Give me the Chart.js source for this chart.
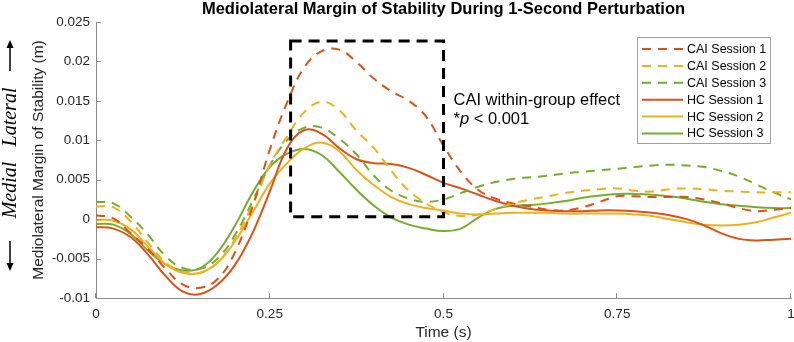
<!DOCTYPE html>
<html>
<head>
<meta charset="utf-8">
<script src="https://cdn.jsdelivr.net/npm/chart.js@4"></script>
<style>
  html, body { margin: 0; padding: 0; background: #fff; }
  canvas { display: block; }
</style>
</head>
<body>
<canvas id="grafico" width="794" height="342"></canvas>
<script>
// dados (tempo em s, margem em m)
const tempo = [0, 0.025, 0.05, 0.075, 0.1, 0.125, 0.15, 0.175, 0.2, 0.225, 0.25, 0.275, 0.3, 0.325, 0.35, 0.375, 0.4, 0.425, 0.45, 0.475, 0.5,
  0.525, 0.55, 0.575, 0.6, 0.625, 0.65, 0.675, 0.7, 0.725, 0.75, 0.775, 0.8, 0.825, 0.85, 0.875, 0.9, 0.925, 0.95, 0.975, 1]

const caiSessao1 = [0.0005, 0.0001, -0.0018, -0.0038, -0.0063, -0.0083, -0.0087, -0.0076, -0.0042, 0.0015, 0.0088, 0.0148, 0.0193, 0.0213, 0.0215, 0.0199, 0.0178, 0.0162, 0.0150, 0.0130, 0.0093,
  0.0060, 0.0037, 0.0026, 0.0020, 0.0016, 0.0012, 0.0011, 0.0015, 0.0022, 0.0029, 0.0029, 0.0028, 0.0028, 0.0028, 0.0025, 0.0020, 0.0014, 0.0010, 0.0012, 0.0014]
const caiSessao2 = [0.0016, 0.0015, -0.0003, -0.0030, -0.0055, -0.0067, -0.0068, -0.0055, -0.0025, 0.0018, 0.0068, 0.0105, 0.0136, 0.0149, 0.0138, 0.0112, 0.0090, 0.0061, 0.0036, 0.0020, 0.0009,
  0.0004, 0.0006, 0.0013, 0.0020, 0.0025, 0.0029, 0.0033, 0.0036, 0.0038, 0.0039, 0.0036, 0.0035, 0.0038, 0.0039, 0.0038, 0.0036, 0.0035, 0.0034, 0.0034, 0.0034]
const caiSessao3 = [0.0022, 0.0020, 0.0003, -0.0020, -0.0047, -0.0062, -0.0063, -0.0050, -0.0020, 0.0022, 0.0068, 0.0100, 0.0116, 0.0116, 0.0102, 0.0082, 0.0055, 0.0036, 0.0026, 0.0022, 0.0025,
  0.0033, 0.0041, 0.0047, 0.0051, 0.0053, 0.0055, 0.0058, 0.0060, 0.0062, 0.0064, 0.0066, 0.0068, 0.0069, 0.0068, 0.0066, 0.0061, 0.0054, 0.0044, 0.0034, 0.0025]
const hcSessao1 = [-0.0010, -0.0012, -0.0023, -0.0045, -0.0072, -0.0092, -0.0095, -0.0083, -0.0058, -0.0018, 0.0035, 0.0090, 0.0113, 0.0108, 0.0090, 0.0076, 0.0071, 0.0070, 0.0065, 0.0056, 0.0046,
  0.0039, 0.0031, 0.0023, 0.0017, 0.0013, 0.0011, 0.0010, 0.0010, 0.0011, 0.0011, 0.0010, 0.0008, 0.0005, 0.0000, -0.0008, -0.0018, -0.0025, -0.0027, -0.0026, -0.0025]
const hcSessao2 = [-0.0001, -0.0002, -0.0013, -0.0035, -0.0057, -0.0068, -0.0068, -0.0055, -0.0028, 0.0008, 0.0045, 0.0071, 0.0090, 0.0097, 0.0086, 0.0062, 0.0043, 0.0028, 0.0019, 0.0014, 0.0011,
  0.0007, 0.0006, 0.0007, 0.0008, 0.0008, 0.0008, 0.0007, 0.0007, 0.0007, 0.0007, 0.0006, 0.0004, 0.0000, -0.0004, -0.0007, -0.0008, -0.0007, -0.0004, 0.0002, 0.0008]
const hcSessao3 = [-0.0006, -0.0007, -0.0019, -0.0040, -0.0057, -0.0065, -0.0062, -0.0042, -0.0008, 0.0033, 0.0066, 0.0083, 0.0089, 0.0081, 0.0060, 0.0037, 0.0017, 0.0002, -0.0007, -0.0012, -0.0015,
  -0.0012, 0.0002, 0.0013, 0.0017, 0.0018, 0.0020, 0.0023, 0.0027, 0.0030, 0.0032, 0.0032, 0.0031, 0.0029, 0.0026, 0.0022, 0.0019, 0.0017, 0.0015, 0.0014, 0.0014]

const nomesSeries = ['CAI Session 1', 'CAI Session 2', 'CAI Session 3', 'HC Session 1', 'HC Session 2', 'HC Session 3']
const xTicks = [0, 0.25, 0.5, 0.75, 1]
const yTicks = [-0.01, -0.005, 0, 0.005, 0.01, 0.015, 0.02, 0.025]
const xTickLabels = ['0', '0.25', '0.5', '0.75', '1']
const yTickLabels = ['-0.01', '-0.005', '0', '0.005', '0.01', '0.015', '0.02', '0.025']

// caixa do efeito: [t inicio, t fim, y baixo, y alto]
const caixaEfeito = [0.28, 0.5, 0.0003, 0.0226]

const vermelho = '#D95319'
const amarelo = '#EDB120'
const verde = '#77AC30'
const fonte = '"Liberation Sans", Arial, sans-serif'

function serie(valores) {
  return tempo.map((t, i) => ({ x: t, y: valores[i] }))
}

function montarDataset(nome, valores, cor, tracejado) {
  return {
    label: nome,
    data: serie(valores),
    borderColor: cor,
    backgroundColor: cor,
    borderWidth: 2,
    borderDash: tracejado ? [9, 7] : [],
    pointRadius: 0,
    fill: false,
    tension: 0.4
  }
}

const datasets = [
  montarDataset(nomesSeries[0], caiSessao1, vermelho, true),
  montarDataset(nomesSeries[1], caiSessao2, amarelo, true),
  montarDataset(nomesSeries[2], caiSessao3, verde, true),
  montarDataset(nomesSeries[3], hcSessao1, vermelho, false),
  montarDataset(nomesSeries[4], hcSessao2, amarelo, false),
  montarDataset(nomesSeries[5], hcSessao3, verde, false)
]

// textos, caixa, ticks para dentro e legenda (estilo MATLAB)
const extras = {
  id: 'extras',
  afterDatasetsDraw(chart) {
    const { ctx, scales: { x, y } } = chart
    const l = x.getPixelForValue(caixaEfeito[0])
    const r = x.getPixelForValue(caixaEfeito[1])
    const b = y.getPixelForValue(caixaEfeito[2])
    const t = y.getPixelForValue(caixaEfeito[3])
    ctx.save()
    ctx.strokeStyle = '#000'
    ctx.lineWidth = 3
    ctx.setLineDash([11, 7])
    ctx.strokeRect(l, t, r - l, b - t)
    ctx.restore()

    // anotação
    ctx.save()
    ctx.fillStyle = '#000'
    ctx.font = '16.5px ' + fonte
    ctx.textBaseline = 'alphabetic'
    ctx.fillText('CAI within-group effect', r + 10, 105)
    let px = r + 10
    ctx.fillText('*', px, 124)
    px += ctx.measureText('*').width
    ctx.font = 'italic 16.5px ' + fonte
    ctx.fillText('p', px, 124)
    px += ctx.measureText('p').width
    ctx.font = '16.5px ' + fonte
    ctx.fillText(' < 0.001', px, 124)
    ctx.restore()
  },
  afterDraw(chart) {
    const { ctx, chartArea: area, scales: { x, y } } = chart
    ctx.save()
    // ticks para dentro
    ctx.strokeStyle = '#8c8c8c'
    ctx.lineWidth = 1
    yTicks.forEach(v => {
      const py = Math.round(y.getPixelForValue(v)) + 0.5
      ctx.beginPath(); ctx.moveTo(area.left, py); ctx.lineTo(area.left + 5, py); ctx.stroke()
    })
    xTicks.forEach(v => {
      const px = Math.round(x.getPixelForValue(v)) - 0.5
      ctx.beginPath(); ctx.moveTo(px, area.bottom); ctx.lineTo(px, area.bottom - 5); ctx.stroke()
    })

    // título
    ctx.fillStyle = '#000'
    ctx.font = 'bold 16.5px ' + fonte
    ctx.textAlign = 'center'
    ctx.textBaseline = 'middle'
    ctx.fillText('Mediolateral Margin of Stability During 1-Second Perturbation', (area.left + area.right) / 2, 9)

    // Lateral / Medial com setas
    ctx.font = 'italic 20px "Liberation Serif", "Times New Roman", serif'
    ctx.save()
    ctx.translate(11, 117)
    ctx.rotate(-Math.PI / 2)
    ctx.fillText('Lateral', 0, 0)
    ctx.restore()
    ctx.save()
    ctx.translate(11, 190)
    ctx.rotate(-Math.PI / 2)
    ctx.fillText('Medial', 0, 0)
    ctx.restore()

    ctx.strokeStyle = '#000'
    ctx.lineWidth = 1.5
    ctx.beginPath(); ctx.moveTo(10, 71); ctx.lineTo(10, 46); ctx.stroke()
    ctx.beginPath(); ctx.moveTo(10, 40); ctx.lineTo(6.5, 48); ctx.lineTo(13.5, 48); ctx.closePath(); ctx.fill()
    ctx.beginPath(); ctx.moveTo(10, 241); ctx.lineTo(10, 264); ctx.stroke()
    ctx.beginPath(); ctx.moveTo(10, 271); ctx.lineTo(6.5, 263); ctx.lineTo(13.5, 263); ctx.closePath(); ctx.fill()

    // legenda
    const lx = 637.5, ly = 37.5, lw = 133, lh = 106
    ctx.fillStyle = '#fff'
    ctx.fillRect(lx, ly, lw, lh)
    ctx.strokeStyle = '#a0a0a0'
    ctx.lineWidth = 1
    ctx.strokeRect(lx, ly, lw, lh)
    ctx.font = '12.5px ' + fonte
    ctx.textAlign = 'left'
    ctx.textBaseline = 'middle'
    chart.data.datasets.forEach((ds, i) => {
      const yy = 49 + i * 16.9
      ctx.strokeStyle = ds.borderColor
      ctx.lineWidth = 2
      ctx.setLineDash(ds.borderDash)
      ctx.beginPath(); ctx.moveTo(642, yy); ctx.lineTo(683, yy); ctx.stroke()
      ctx.setLineDash([])
      ctx.fillStyle = '#000'
      ctx.fillText(ds.label, 687, yy + 0.5)
    })
    ctx.restore()
  }
}

new Chart(document.getElementById('grafico'), {
  type: 'line',
  data: { datasets: datasets },
  options: {
    responsive: false,
    animation: false,
    devicePixelRatio: 1,
    layout: { padding: { top: 22, right: 3, left: 0, bottom: 0 } },
    plugins: {
      legend: { display: false },
      title: { display: false },
      tooltip: { enabled: false }
    },
    scales: {
      x: {
        type: 'linear',
        min: 0,
        max: 1,
        afterBuildTicks: s => { s.ticks = xTicks.map(v => ({ value: v })) },
        afterFit: s => { s.height = 44; s.paddingLeft = 0; s.paddingRight = 0 },
        grid: { drawOnChartArea: false, drawTicks: false },
        border: { color: '#8c8c8c', width: 1 },
        ticks: {
          padding: 8,
          color: '#262626',
          font: { family: fonte, size: 13.5 },
          maxRotation: 0,
          callback: (v) => xTickLabels[xTicks.indexOf(v)]
        },
        title: {
          display: true,
          text: 'Time (s)',
          color: '#262626',
          font: { family: fonte, size: 15.5 },
          padding: { top: 1, bottom: 0 }
        }
      },
      y: {
        type: 'linear',
        min: -0.01,
        max: 0.025,
        afterBuildTicks: s => { s.ticks = yTicks.map(v => ({ value: v })) },
        afterFit: s => { s.width = 96; s.paddingTop = 0; s.paddingBottom = 0 },
        grid: { drawOnChartArea: false, drawTicks: false },
        border: { color: '#8c8c8c', width: 1 },
        ticks: {
          padding: 6,
          color: '#262626',
          font: { family: fonte, size: 13.5 },
          callback: (v) => yTickLabels[yTicks.indexOf(v)]
        },
        title: {
          display: true,
          text: 'Mediolateral Margin of Stability (m)',
          color: '#262626',
          font: { family: fonte, size: 15.5 },
          padding: { top: 29, bottom: 4 }
        }
      }
    }
  },
  plugins: [extras]
})
</script>
</body>
</html>
